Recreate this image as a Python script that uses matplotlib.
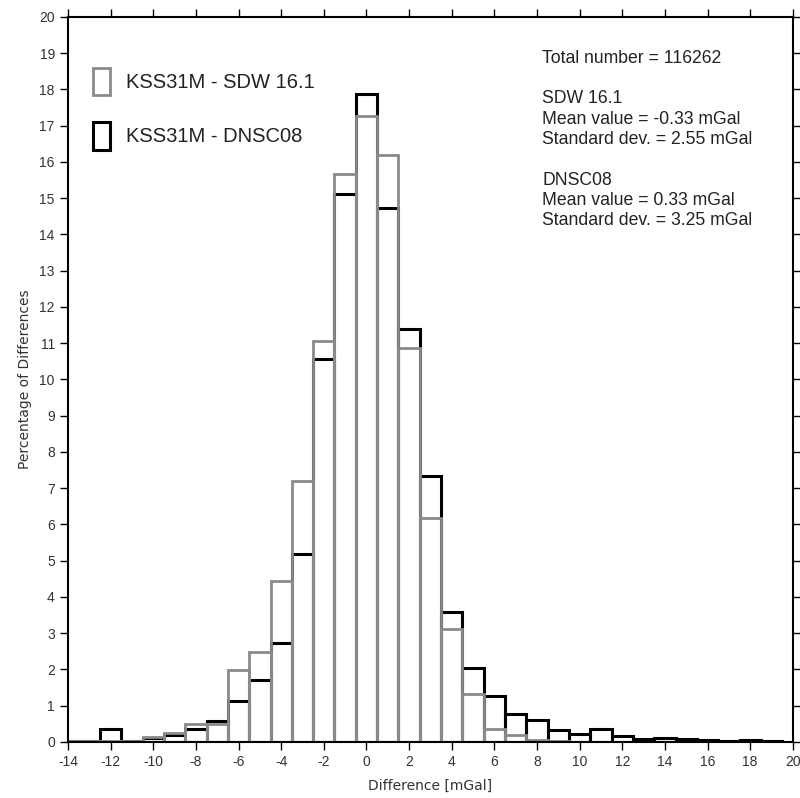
import matplotlib
matplotlib.use("Agg")
import matplotlib.pyplot as plt
from matplotlib.patches import Rectangle
import numpy as np

plt.rcParams['font.family'] = ['Liberation Sans', 'DejaVu Sans']
plt.rcParams['axes.unicode_minus'] = False

# bin centres (mGal), bin width 1
bins = list(range(-14, 20))
# KSS31M - SDW 16.1 (grey)
sdw = [0.02, 0.02, 0.03, 0.02, 0.14, 0.25, 0.50, 0.50, 1.98, 2.48, 4.43, 7.20,
       11.07, 15.68, 17.28, 16.20, 10.86, 6.18, 3.12, 1.33, 0.37, 0.18, 0.05, 0.02,
       0.01, 0.01, 0.01, 0.01, 0.01, 0.01, 0.01, 0.01, 0.01, 0.01]
# KSS31M - DNSC08 (black)
dnsc = [0.02, 0.02, 0.37, 0.03, 0.10, 0.20, 0.37, 0.57, 1.13, 1.72, 2.74, 5.18,
        10.56, 15.13, 17.88, 14.73, 11.39, 7.33, 3.59, 2.04, 1.28, 0.76, 0.62, 0.34,
        0.23, 0.37, 0.17, 0.07, 0.11, 0.07, 0.05, 0.04, 0.05, 0.03]

xticks = list(range(-14, 21, 2))
yticks = list(range(0, 21))
stats_text = ("Total number = 116262\n\n"
              "SDW 16.1\nMean value = -0.33 mGal\nStandard dev. = 2.55 mGal\n\n"
              "DNSC08\nMean value = 0.33 mGal\nStandard dev. = 3.25 mGal")
legend_labels = ["KSS31M - SDW 16.1", "KSS31M - DNSC08"]

GREY = "#8a8a8a"
TXT = "#222222"

fig = plt.figure(figsize=(8.0, 7.98), dpi=100)
ax = fig.add_axes([0.085, 0.0702, 0.906, 0.9085])

ax.bar(bins, dnsc, width=1.0, fill=False, edgecolor="black", linewidth=2.2, zorder=2)
ax.bar(bins, sdw, width=1.0, fill=False, edgecolor=GREY, linewidth=2.0, zorder=3)

ax.set_xlim(-14, 20)
ax.set_ylim(0, 20)
ax.set_xticks(xticks)
ax.set_yticks(yticks)
ax.tick_params(direction="out", length=6, width=1, labelsize=10, labelcolor="#333333",
               top=True, right=True, labeltop=False, labelright=False)
for s in ax.spines.values():
    s.set_linewidth(1.5)
    s.set_zorder(4)

ax.set_xlabel("Difference [mGal]", fontsize=10, labelpad=7, color="#333333",
              family=['DejaVu Sans'])
ax.set_ylabel("Percentage of Differences", fontsize=10, labelpad=5, color="#333333",
              family=['DejaVu Sans'])

# legend (manual)
ax.add_patch(Rectangle((0.0345, 0.892), 0.0235, 0.038, transform=ax.transAxes,
                       fill=False, edgecolor=GREY, linewidth=2.0, clip_on=False))
ax.add_patch(Rectangle((0.0345, 0.817), 0.0235, 0.038, transform=ax.transAxes,
                       fill=False, edgecolor="black", linewidth=2.2, clip_on=False))
ax.text(0.08, 0.910, legend_labels[0], transform=ax.transAxes, fontsize=14.5,
        va="center", ha="left", color=TXT)
ax.text(0.08, 0.835, legend_labels[1], transform=ax.transAxes, fontsize=14.5,
        va="center", ha="left", color=TXT)

ax.text(0.654, 0.955, stats_text, transform=ax.transAxes, fontsize=12.7,
        va="top", ha="left", color=TXT, linespacing=1.255)

fig.savefig("out.png", dpi=100)
